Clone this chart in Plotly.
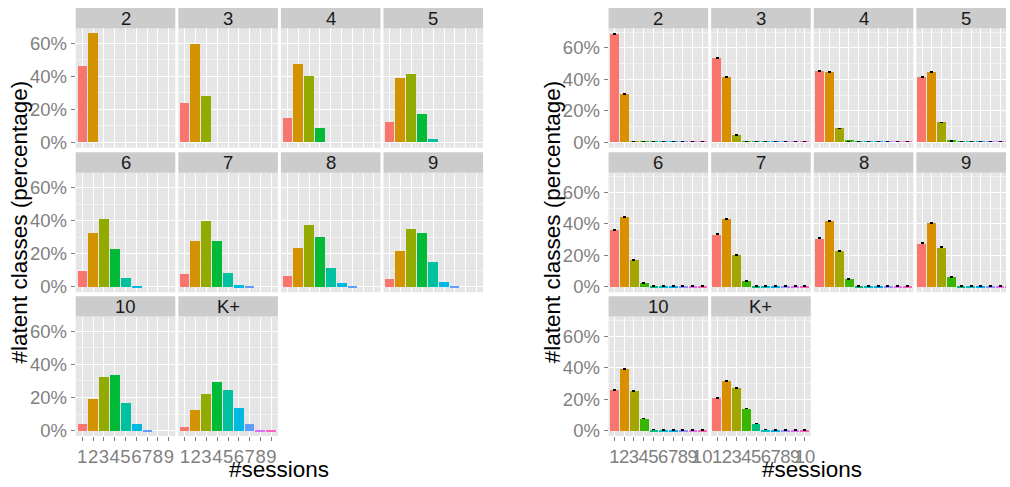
import plotly.graph_objects as go

W, H = 1010, 487

facets = ["2", "3", "4", "5", "6", "7", "8", "9", "10", "K+"]

# Left chart: 9 session categories
left_cats = ["1", "2", "3", "4", "5", "6", "7", "8", "9"]
left_vals = [
    [45.9, 65.6],
    [23.8, 59.0, 28.0],
    [14.3, 47.1, 39.9, 8.3],
    [11.9, 38.7, 41.1, 16.7, 1.8],
    [9.5, 32.8, 41.1, 23.2, 5.4, 0.6],
    [7.7, 28.0, 39.9, 28.0, 8.3, 1.2, 0.4],
    [6.6, 23.8, 37.6, 30.4, 11.3, 2.4, 0.5],
    [4.8, 21.5, 35.2, 32.8, 14.9, 3.0, 0.5],
    [4.4, 19.3, 32.4, 33.6, 16.9, 4.4, 0.4],
    [2.6, 12.7, 22.3, 29.4, 24.6, 13.9, 4.4, 0.9, 0.4],
]
left_colors = ["#F8766D", "#D39200", "#93AA00", "#00BA38", "#00C19F",
               "#00B9E3", "#619CFF", "#DB72FB", "#FF61C3"]

# Right chart: 10 session categories with error bars
right_cats = ["1", "2", "3", "4", "5", "6", "7", "8", "9", "10"]
right_vals = [
    [68.9, 30.8, 0.5, 0.5, 0.5, 0.5, 0.5, 0.5, 0.5, 0.5],
    [53.5, 41.5, 4.6, 0.5, 0.5, 0.5, 0.5, 0.5, 0.5, 0.5],
    [45.3, 44.7, 8.8, 0.6, 0.5, 0.5, 0.5, 0.5, 0.5, 0.5],
    [41.5, 44.7, 12.6, 0.9, 0.5, 0.5, 0.5, 0.5, 0.5, 0.5],
    [36.4, 44.6, 16.9, 2.5, 0.5, 0.5, 0.5, 0.5, 0.5, 0.5],
    [33.3, 43.3, 20.1, 3.8, 0.6, 0.5, 0.5, 0.5, 0.5, 0.5],
    [30.8, 42.1, 22.6, 5.0, 0.6, 0.5, 0.5, 0.5, 0.5, 0.5],
    [27.6, 40.8, 25.1, 6.3, 0.6, 0.5, 0.5, 0.5, 0.5, 0.5],
    [25.9, 39.1, 25.3, 7.7, 0.9, 0.5, 0.5, 0.5, 0.5, 0.5],
    [20.9, 31.6, 27.2, 14.0, 4.6, 0.9, 0.5, 0.5, 0.5, 0.5],
]
right_err = [
    [0.3, 0.3, 0.1, 0.1, 0.1, 0.1, 0.1, 0.1, 0.1, 0.1],
    [0.3, 0.3, 0.2, 0.1, 0.1, 0.1, 0.1, 0.1, 0.1, 0.1],
    [0.3, 0.3, 0.3, 0.1, 0.1, 0.1, 0.1, 0.1, 0.1, 0.1],
    [0.3, 0.3, 0.3, 0.2, 0.1, 0.1, 0.1, 0.1, 0.1, 0.1],
    [0.3, 0.3, 0.3, 0.2, 0.1, 0.1, 0.1, 0.1, 0.1, 0.1],
    [0.3, 0.3, 0.3, 0.2, 0.1, 0.1, 0.1, 0.1, 0.1, 0.1],
    [0.3, 0.3, 0.3, 0.2, 0.1, 0.1, 0.1, 0.1, 0.1, 0.1],
    [0.3, 0.3, 0.3, 0.2, 0.1, 0.1, 0.1, 0.1, 0.1, 0.1],
    [0.3, 0.3, 0.3, 0.2, 0.1, 0.1, 0.1, 0.1, 0.1, 0.1],
    [0.2, 0.3, 0.3, 0.2, 0.2, 0.1, 0.1, 0.1, 0.1, 0.1],
]
right_colors = ["#F8766D", "#D89000", "#A3A500", "#39B600", "#00BF7D",
                "#00BFC4", "#00B0F6", "#9590FF", "#E76BF3", "#FF62BC"]

y_ticks = [0, 20, 40, 60]
y_ticktext = ["0%", "20%", "40%", "60%"]
y_title = "#latent classes (percentage)"
x_title = "#sessions"

FONT = "Liberation Sans, Arial, Helvetica, sans-serif"
TICK_SIZE = 18.5
TITLE_SIZE = 22.5
GREY50 = "#7F7F7F"

# layout geometry (pixels)
left_x0 = [76, 179, 282, 385]
right_x0 = [611, 714, 817, 920]
PW = 100
panel_y = [(28.7, 149.3), (174.6, 295.3), (319.9, 440.6)]
strip_y = [(8.0, 28.7), (153.9, 174.6), (299.2, 319.9)]

def px(x):
    return x / W

def py(y):
    return 1 - y / H

fig = go.Figure()
layout = {}
shapes = []
annotations = []

def add_panel(idx, chart, k):
    row, col = divmod(k, 4)
    x0 = (left_x0 if chart == "L" else right_x0)[col]
    x1 = min(x0 + PW, W)
    ncat = 9 if chart == "L" else 10
    full = ncat + 0.2
    visible = full * (x1 - x0) / PW
    xr = [0.4, 0.4 + visible]
    if chart == "L":
        vals = left_vals[k]
        xs = list(range(1, len(vals) + 1))
        fig.add_trace(go.Bar(
            x=xs, y=vals, width=0.9,
            marker=dict(color=left_colors[:len(vals)], line=dict(width=0)),
            xaxis=f"x{idx}", yaxis=f"y{idx}", showlegend=False))
        yr = [-3.28, 68.9]
        cats = left_cats
    else:
        vals = right_vals[k]
        xs = list(range(1, len(vals) + 1))
        fig.add_trace(go.Bar(
            x=xs, y=vals, width=0.9,
            marker=dict(color=right_colors[:len(vals)], line=dict(width=0)),
            error_y=dict(type="data", array=right_err[k], color="black",
                         thickness=1, width=1.5),
            xaxis=f"x{idx}", yaxis=f"y{idx}", showlegend=False))
        yr = [-3.45, 72.45]
        cats = right_cats
    y0p, y1p = panel_y[row]
    bottom = (k >= 8)
    left = (col == 0)
    xa = dict(domain=[px(x0), px(x1)], range=xr, anchor=f"y{idx}",
              tickmode="array", tickvals=list(range(1, ncat + 1)), ticktext=cats,
              showgrid=True, gridcolor="white", gridwidth=1.1,
              zeroline=False, showline=False,
              showticklabels=bottom, ticks="outside" if bottom else "",
              ticklen=4, tickwidth=1, tickcolor=GREY50, tickangle=0,
              tickfont=dict(family=FONT, size=TICK_SIZE, color=GREY50),
              fixedrange=True)
    ya = dict(domain=[py(y1p), py(y0p)], range=yr, anchor=f"x{idx}",
              tickmode="array", tickvals=y_ticks, ticktext=y_ticktext,
              showgrid=True, gridcolor="white", gridwidth=1.1,
              minor=dict(tickmode="array", tickvals=[10, 30, 50, 70],
                         showgrid=True, gridcolor="#F2F2F2", gridwidth=0.6, ticks=""),
              zeroline=False, showline=False,
              showticklabels=left, ticks="outside" if left else "",
              ticklen=4, tickwidth=1, tickcolor=GREY50,
              tickfont=dict(family=FONT, size=TICK_SIZE, color=GREY50),
              fixedrange=True)
    layout["xaxis" if idx == 1 else f"xaxis{idx}"] = xa
    layout["yaxis" if idx == 1 else f"yaxis{idx}"] = ya
    s0, s1 = strip_y[row]
    shapes.append(dict(type="rect", xref="paper", yref="paper",
                       x0=px(x0), x1=px(x1), y0=py(s1), y1=py(s0),
                       fillcolor="#CCCCCC", line=dict(width=0), layer="below"))
    annotations.append(dict(text=facets[k], xref="paper", yref="paper",
                            x=px(x0 + PW / 2), y=py((s0 + s1) / 2),
                            xanchor="center", yanchor="middle", showarrow=False,
                            font=dict(family=FONT, size=TICK_SIZE, color="#1A1A1A")))

idx = 1
for k in range(10):
    add_panel(idx, "L", k)
    idx += 1
for k in range(10):
    add_panel(idx, "R", k)
    idx += 1

# axis titles
for cx in [20.5, 555.5]:
    annotations.append(dict(text=y_title, xref="paper", yref="paper",
                            x=px(cx), y=py(224.3), textangle=-90,
                            xanchor="center", yanchor="middle", showarrow=False,
                            font=dict(family=FONT, size=TITLE_SIZE, color="black")))
for cx in [280.5, 815.5]:
    annotations.append(dict(text=x_title, xref="paper", yref="paper",
                            x=px(cx), y=py(474), xanchor="center", yanchor="middle",
                            showarrow=False,
                            font=dict(family=FONT, size=TITLE_SIZE, color="black")))

fig.update_layout(**layout)
fig.update_layout(
    width=W, height=H, margin=dict(l=0, r=0, t=0, b=0),
    paper_bgcolor="white", plot_bgcolor="#E5E5E5",
    shapes=shapes, annotations=annotations, showlegend=False,
    bargap=0, font=dict(family=FONT),
)

fig.write_html("out.html", config={"displayModeBar": False})
